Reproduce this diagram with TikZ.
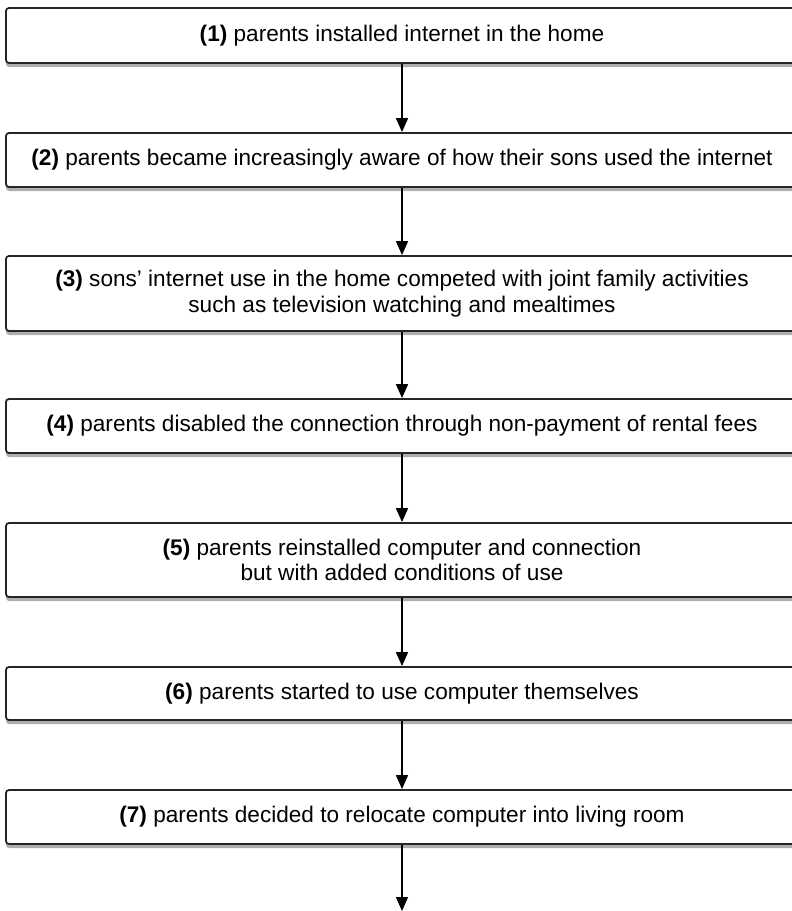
\documentclass[tikz,border=0pt]{standalone}
\usepackage{fontspec}
\setmainfont{Liberation Sans}
\usetikzlibrary{arrows.meta,shadows}
\begin{document}
\begin{tikzpicture}[x=1pt,y=-1pt,
  stepbox/.style={draw=black!85, line width=1.8pt, rounded corners=3pt, fill=white,
    minimum width=792pt, inner sep=0pt, align=center, font=\fontsize{22.6}{25.6}\selectfont,
    drop shadow={shadow xshift=0pt, shadow yshift=-4pt, opacity=0.45, fill=black!70}},
  flow/.style={line width=1.6pt, -{Triangle[length=14pt,width=12pt]}}]
\useasboundingbox (0,0) rectangle (792,911);
\node[stepbox, minimum height=55pt] (s1) at (402,35.5) {\textbf{(1)} parents installed internet in the home};
\node[stepbox, minimum height=54pt] (s2) at (402,160) {\textbf{(2)} parents became increasingly aware of how their sons used the internet};
\node[stepbox, minimum height=75pt] (s3) at (402,293.5) {\textbf{(3)} sons’ internet use in the home competed with joint family activities\\ such as television watching and mealtimes};
\node[stepbox, minimum height=54pt] (s4) at (402,426) {\textbf{(4)} parents disabled the connection through non-payment of rental fees};
\node[stepbox, minimum height=74pt] (s5) at (402,560) {\textbf{(5)} parents reinstalled computer and connection\\ but with added conditions of use};
\node[stepbox, minimum height=53pt] (s6) at (402,693.5) {\textbf{(6)} parents started to use computer themselves};
\node[stepbox, minimum height=54pt] (s7) at (402,817) {\textbf{(7)} parents decided to relocate computer into living room};
\coordinate (end) at (402,911);
\draw[flow] (s1) -- (s2);
\draw[flow] (s2) -- (s3);
\draw[flow] (s3) -- (s4);
\draw[flow] (s4) -- (s5);
\draw[flow] (s5) -- (s6);
\draw[flow] (s6) -- (s7);
\draw[flow] (s7) -- (end);
\end{tikzpicture}
\end{document}
